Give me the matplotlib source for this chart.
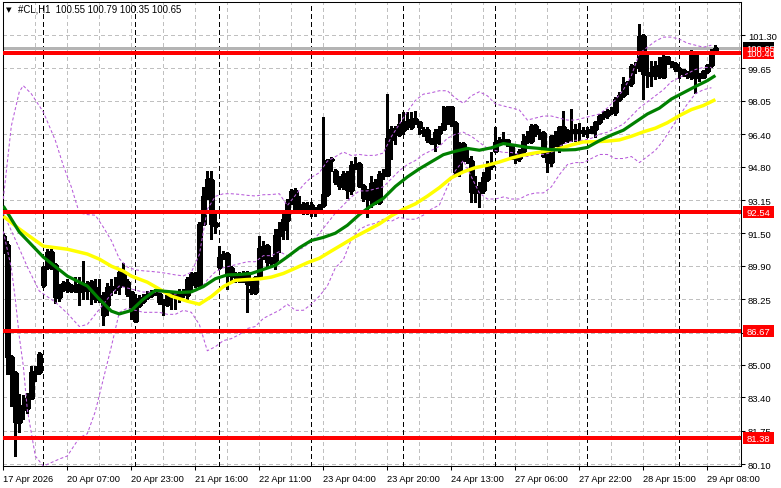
import numpy as np
import matplotlib
matplotlib.use("Agg")
import matplotlib.pyplot as plt
from matplotlib.patches import Rectangle
from matplotlib.transforms import blended_transform_factory

plt.rcParams['lines.scale_dashes'] = False
plt.rcParams['font.family'] = ['Liberation Sans', 'DejaVu Sans']

# ---------------- data (hourly candles, bar index 0..178) ----------------
opens = [
91.37, 90.93, 85.39, 84.60, 82.18, 82.82, 82.87, 83.36, 84.60, 84.65,
88.95, 89.84, 90.58, 89.94, 88.35, 88.75, 89.04, 88.70, 88.95, 88.65,
89.00, 88.70, 88.75, 88.80, 88.40, 88.45, 87.96, 88.85, 88.75, 88.90,
89.09, 89.09, 88.60, 87.17, 87.96, 88.15, 88.35, 88.45, 88.50, 88.50,
88.11, 88.01, 88.45, 88.60, 88.35, 88.50, 88.45, 89.24, 89.49, 88.95,
91.97, 93.35, 94.14, 92.02, 89.84, 90.33, 90.48, 89.79, 89.44, 89.34,
89.19, 89.54, 88.75, 88.60, 89.34, 90.78, 90.88, 90.09, 90.19, 91.42,
91.72, 92.16, 93.05, 93.59, 92.60, 92.95, 92.60, 92.90, 92.55, 92.65,
92.90, 93.44, 95.12, 94.58, 94.04, 93.84, 94.38, 93.64, 94.83, 94.93,
93.84, 93.30, 93.20, 93.99, 93.05, 94.38, 94.38, 96.16, 96.65, 96.41,
96.60, 96.80, 96.75, 97.00, 97.00, 96.46, 96.60, 96.11, 96.51, 96.46,
96.65, 96.95, 97.74, 96.95, 94.53, 95.92, 95.17, 95.07, 93.54, 93.54,
93.64, 94.18, 94.83, 95.57, 96.01, 96.11, 96.01, 95.86, 95.32, 95.22,
95.57, 96.06, 96.06, 96.81, 96.46, 96.46, 95.42, 95.02, 96.06, 95.67,
96.76, 96.11, 96.51, 96.61, 96.51, 96.56, 96.51, 96.61, 96.66, 97.00,
97.30, 97.35, 97.50, 97.50, 98.14, 98.34, 98.88, 98.93, 99.72, 99.72,
101.25, 99.42, 99.37, 99.32, 99.77, 99.22, 100.21, 99.97, 99.87, 99.62,
99.57, 99.40, 99.22, 100.36, 99.32, 99.22, 99.52, 99.82, 100.55,
]
highs = [
91.52, 91.13, 85.49, 84.70, 83.56, 83.51, 83.61, 84.94, 84.94, 85.64,
89.89, 90.73, 90.73, 90.03, 89.00, 89.14, 89.24, 89.00, 89.34, 89.34,
90.13, 89.14, 89.19, 89.24, 89.24, 88.60, 89.04, 89.24, 89.34, 89.74,
90.03, 89.24, 88.65, 88.50, 88.45, 88.50, 88.65, 88.70, 88.75, 88.65,
88.25, 88.60, 88.60, 88.65, 88.75, 88.75, 89.34, 89.57, 89.57, 92.07,
93.79, 94.58, 94.58, 92.51, 90.88, 90.63, 90.58, 89.89, 89.59, 89.59,
89.64, 89.64, 89.24, 89.39, 91.37, 91.12, 90.98, 90.33, 91.72, 92.05,
92.46, 93.20, 93.69, 93.72, 93.35, 93.05, 93.03, 93.03, 92.80, 92.95,
97.25, 95.20, 95.27, 94.68, 94.35, 94.58, 94.58, 95.07, 95.30, 95.01,
93.94, 93.69, 94.35, 94.18, 94.58, 94.68, 98.39, 96.83, 96.83, 97.40,
97.48, 97.48, 97.48, 97.55, 97.05, 96.75, 96.75, 96.21, 96.66, 96.83,
97.82, 97.82, 97.82, 97.05, 96.00, 96.00, 95.67, 95.34, 94.35, 94.02,
94.51, 95.07, 95.50, 96.76, 96.26, 96.51, 96.16, 95.91, 95.42, 95.67,
96.41, 96.58, 96.91, 96.91, 96.66, 96.58, 95.50, 96.36, 96.58, 96.83,
97.55, 96.66, 97.65, 96.91, 96.98, 96.74, 96.74, 96.83, 97.07, 97.40,
97.57, 97.65, 97.73, 98.22, 98.47, 99.21, 99.05, 99.87, 99.95, 101.84,
101.35, 100.36, 100.04, 100.04, 100.21, 100.36, 100.28, 100.04, 99.95, 99.70,
99.62, 99.54, 100.56, 100.41, 99.45, 99.54, 99.87, 100.61, 100.79,
]
lows = [
90.52, 84.55, 82.96, 80.50, 81.68, 82.32, 82.62, 83.31, 84.20, 84.55,
88.85, 89.74, 89.74, 88.06, 88.15, 88.65, 88.60, 88.60, 88.60, 87.96,
88.25, 88.25, 88.01, 88.11, 88.11, 86.97, 87.47, 88.45, 88.55, 88.50,
88.90, 88.40, 87.27, 87.12, 87.86, 88.06, 88.25, 88.35, 88.45, 88.01,
87.47, 87.91, 87.76, 87.76, 88.11, 88.35, 88.25, 88.65, 88.85, 88.85,
91.92, 93.20, 91.22, 91.52, 89.74, 90.23, 88.75, 89.09, 89.09, 89.09,
89.09, 87.61, 88.50, 88.50, 89.24, 90.23, 89.89, 89.94, 89.74, 90.58,
91.22, 91.22, 92.95, 92.55, 92.55, 92.45, 92.45, 92.38, 92.38, 92.60,
92.80, 93.37, 94.58, 93.94, 93.69, 93.69, 93.27, 93.44, 94.68, 93.77,
93.10, 92.31, 92.78, 92.95, 92.95, 94.18, 94.33, 95.17, 95.91, 96.33,
96.41, 96.65, 96.65, 96.90, 96.41, 96.31, 96.01, 95.91, 95.57, 95.91,
96.65, 96.90, 96.82, 94.33, 94.33, 95.07, 95.00, 93.05, 93.03, 92.80,
93.52, 94.08, 94.68, 95.52, 95.91, 95.91, 95.81, 95.17, 95.00, 95.07,
95.47, 95.96, 95.99, 96.31, 96.16, 95.30, 94.55, 94.85, 95.82, 95.54,
95.99, 96.03, 96.08, 96.08, 95.99, 96.33, 96.24, 96.49, 96.24, 96.90,
97.15, 97.20, 97.40, 97.35, 98.02, 98.24, 98.39, 98.80, 99.45, 99.52,
98.14, 98.71, 98.80, 99.12, 99.20, 99.17, 99.87, 99.74, 99.54, 99.20,
99.29, 99.20, 99.12, 98.42, 99.05, 99.17, 99.45, 99.70, 100.35,
]
closes = [
90.62, 85.39, 84.55, 82.18, 82.97, 82.97, 83.36, 84.65, 84.65, 85.54,
89.84, 90.58, 89.94, 88.35, 88.75, 89.04, 88.70, 88.90, 88.65, 89.00,
88.70, 89.00, 89.09, 88.25, 88.25, 87.47, 88.85, 88.75, 88.90, 89.59,
89.49, 88.50, 87.76, 88.25, 88.25, 88.35, 88.50, 88.60, 88.60, 88.11,
88.01, 88.45, 88.55, 88.35, 88.60, 88.55, 89.24, 89.49, 88.95, 91.97,
93.35, 94.19, 91.97, 91.87, 90.33, 90.48, 89.49, 89.39, 89.34, 89.14,
89.54, 88.99, 88.60, 89.34, 90.78, 90.88, 90.09, 90.19, 91.42, 91.72,
92.21, 93.05, 93.59, 92.60, 92.90, 92.60, 92.85, 92.55, 92.65, 92.90,
93.44, 95.12, 95.17, 94.04, 93.84, 94.43, 93.64, 94.88, 94.93, 93.84,
93.25, 93.20, 93.99, 93.05, 94.43, 94.48, 96.21, 96.65, 96.41, 96.90,
97.00, 97.05, 97.15, 97.15, 96.75, 96.60, 96.11, 95.96, 96.01, 96.65,
96.95, 97.74, 96.95, 94.53, 95.92, 95.17, 95.07, 93.54, 93.79, 93.79,
94.28, 94.83, 94.93, 96.01, 96.11, 96.01, 96.11, 95.22, 95.17, 95.57,
96.06, 96.31, 96.81, 96.46, 96.41, 95.34, 95.02, 96.31, 96.31, 96.76,
96.11, 96.56, 96.61, 96.51, 96.56, 96.46, 96.61, 96.51, 97.00, 97.30,
97.40, 97.55, 97.60, 98.14, 98.34, 98.88, 98.98, 99.77, 99.82, 101.25,
99.37, 99.32, 99.32, 99.77, 99.27, 100.21, 99.97, 99.85, 99.62, 99.55,
99.37, 99.29, 100.36, 99.22, 99.22, 99.52, 99.84, 100.51, 100.65,
]

# green moving average (read at these bar indices)
green_idx = [0, 4, 10, 16, 21, 24, 27] + list(range(29, 177, 3)) + [178]
green_vals = [
92.85, 91.57, 90.33, 89.39, 88.90, 88.25, 87.66,
87.52, 87.69, 88.25, 88.68, 88.63, 88.58, 88.61, 88.87, 89.26, 89.45,
89.47, 89.52, 89.72, 89.92, 90.34, 90.79, 91.15, 91.30, 91.51, 91.90,
92.43, 92.87, 93.23, 93.82, 94.29, 94.69, 95.04, 95.39, 95.56, 95.70,
95.61, 95.73, 95.94, 95.85, 95.75, 95.70, 95.64, 95.62, 95.64, 95.75,
96.08, 96.36, 96.60, 97.00, 97.40, 97.69, 98.14, 98.45, 98.76, 99.05,
99.30,
]
# yellow moving average
yellow_idx = [0, 4, 10, 16, 21, 24, 27, 30, 32, 36, 39, 42, 46] + list(range(49, 179, 3))
yellow_vals = [
92.35, 91.72, 90.87, 90.72, 90.48, 90.23, 89.88, 89.64, 89.39, 89.09, 88.75, 88.40, 88.15,
88.00, 88.38, 88.87, 89.18, 89.22, 89.25, 89.34, 89.52, 89.78, 90.05,
90.27, 90.63, 90.98, 91.34, 91.65, 91.97, 92.37, 92.69, 92.96, 93.34,
93.76, 94.25, 94.54, 94.75, 94.87, 95.03, 95.22, 95.37, 95.48, 95.58,
95.69, 95.87, 96.02, 96.03, 96.06, 96.12, 96.30, 96.52, 96.70, 96.97,
97.32, 97.62, 97.82, 98.11,
]
# Bollinger bands (dashed purple)
bb_sample_idx = list(range(19, 179, 2))
bb_up_idx = [0, 2, 4, 5, 7, 10, 13, 15, 17] + bb_sample_idx
bb_up_vals = [
93.2, 96.8, 98.5, 98.8, 98.4, 97.5, 96.1, 94.85, 93.8,
92.51, 92.43, 92.40, 91.81, 91.15, 90.25, 89.84, 89.70, 89.65, 89.62,
89.58, 89.52, 89.45, 89.40, 89.58, 90.45, 92.69, 93.33, 93.46, 93.46,
93.43, 93.38, 93.35, 93.41, 93.42, 93.46, 92.88, 93.38, 93.90, 94.27,
94.50, 95.07, 95.29, 95.52, 95.35, 95.40, 95.35, 95.36, 95.47, 96.28,
96.90, 97.52, 98.07, 98.38, 98.45, 98.55, 98.55, 98.19, 97.93,
98.3, 98.5, 98.3, 97.9, 97.8, 97.7, 97.6, 97.1, 97.2, 97.3,
97.3, 97.2, 97.1, 97.1, 97.2, 97.3, 97.4, 97.7, 98.1, 98.6,
99.3, 100.4, 100.7, 101.0, 101.2, 101.2, 101.1, 100.9, 100.8, 100.7, 100.8,
]
bb_mid_idx = [0, 3, 6, 9, 13, 16] + bb_sample_idx
bb_mid_vals = [
92.5, 91.2, 89.85, 88.65, 88.1, 87.55,
86.9, 87.0, 87.5, 88.0, 88.5, 88.9, 88.8, 88.7, 88.6, 88.6,
88.6, 88.5, 88.5, 88.6, 88.6, 88.7, 89.2, 89.6, 89.8, 89.9,
90.0, 90.1, 90.1, 90.4, 90.4, 90.6, 90.4, 90.6, 90.8, 91.1,
91.5, 92.0, 92.5, 92.9, 93.3, 93.6, 93.6, 93.7, 93.8, 94.2,
94.6, 94.9, 95.1, 95.4, 95.6, 95.8, 96.2, 96.4, 96.5, 96.3,
96.0, 95.7, 95.6, 95.5, 95.5, 95.4, 95.3, 95.4, 95.4, 95.5,
95.8, 96.0, 96.1, 96.1, 96.2, 96.4, 96.5, 96.7, 96.9, 97.3,
97.7, 98.0, 98.3, 98.6, 99.0, 99.2, 99.4, 99.6, 99.7, 99.7,
]
bb_lo_idx = [0, 2, 3, 4, 5, 6, 8, 10, 14, 16] + bb_sample_idx
bb_lo_vals = [
91.6, 89.8, 88.25, 86.4, 84.95, 82.8, 80.5, 80.0, 80.35, 80.5,
81.4, 81.6, 82.7, 84.3, 85.9, 87.6, 87.8, 87.7, 87.6, 87.6,
87.6, 87.5, 87.5, 87.7, 87.6, 87.0, 85.7, 85.9, 86.2, 86.3,
86.5, 86.8, 86.9, 87.3, 87.5, 87.7, 88.0, 87.7, 87.7, 88.0,
88.4, 88.9, 89.8, 90.2, 91.2, 91.7, 91.9, 92.0, 92.2, 92.1,
92.3, 92.2, 92.2, 92.4, 92.7, 92.9, 93.8, 94.6, 95.1, 94.3,
93.5, 93.2, 93.2, 93.3, 93.2, 93.2, 93.4, 93.5, 93.5, 93.8,
94.4, 94.9, 95.0, 95.0, 95.2, 95.4, 95.4, 95.2, 95.2, 95.3,
95.0, 95.3, 95.6, 96.1, 96.7, 97.3, 97.9, 98.4, 98.6, 98.7,
]

levels = [100.40, 92.54, 86.67, 81.38]
last_price = 100.65
ytick_vals = [101.30, 99.65, 98.05, 96.40, 94.80, 93.15, 91.50, 89.90, 88.25, 86.60, 85.00, 83.40, 81.75, 80.10]
ytick_labels = ["101.30", "99.65", "98.05", "96.40", "94.80", "93.15", "91.50", "89.90", "88.25", "",
                "85.00", "83.40", "81.75", "80.10"]
xtick_idx = [0, 16, 32, 48, 64, 80, 96, 112, 128, 144, 160, 176]
xtick_labels = ["17 Apr 2026", "20 Apr 07:00", "20 Apr 23:00", "21 Apr 16:00", "22 Apr 11:00",
                "23 Apr 04:00", "23 Apr 20:00", "24 Apr 13:00", "27 Apr 06:00", "27 Apr 22:00",
                "28 Apr 15:00", "29 Apr 08:00"]
sep_idx = [10, 33, 54, 77, 100, 123, 146, 169]
title = "#CL,H1  100.55 100.79 100.35 100.65"

# ---------------- drawing ----------------
O = np.array(opens); Hh = np.array(highs); Lw = np.array(lows); C = np.array(closes)
n = len(C)
idx = np.arange(n)

W, H = 781, 489
fig = plt.figure(figsize=(W / 100, H / 100), dpi=100)
fig.patch.set_facecolor('white')
Lp, Rp, Tp, Bp = 2.5, 741.0, 2.7, 466.5
ax = fig.add_axes([Lp / W, (H - Bp) / H, (Rp - Lp) / W, (Bp - Tp) / H])
ax.set_facecolor('white')
ax.set_xlim(-0.2, 184.4)
ax.set_ylim(80.03, 102.95)

for gx in range(8, 185, 8):
    ax.axvline(gx, color='#C0C0C0', lw=0.75, dashes=(2.5, 2.5), zorder=0.5, antialiased=False)
for gy in ytick_vals:
    ax.axhline(gy, color='#C0C0C0', lw=0.75, dashes=(2.5, 2.5), zorder=0.5, antialiased=False)
for sx in sep_idx:
    ax.axvline(sx, color='black', lw=0.75, dashes=(2.9, 2.2), zorder=1, antialiased=False)
ax.axhline(last_price, color='#B4B4B4', lw=0.75, zorder=1, antialiased=False)

ax.vlines(idx, Lw, Hh, color='black', lw=0.75, zorder=2, antialiased=False)
bull = C >= O
bot = np.minimum(O, C)
hgt = np.maximum(np.abs(C - O), 0.03)
ax.bar(idx[bull], hgt[bull], bottom=bot[bull], width=0.8, color='white', edgecolor='black',
       linewidth=0.75, zorder=2.5, antialiased=False)
ax.bar(idx[~bull], hgt[~bull], bottom=bot[~bull], width=0.8, color='black', edgecolor='black',
       linewidth=0.75, zorder=2.5, antialiased=False)

bbc = '#B85CDA'
for xs, vs in [(bb_up_idx, bb_up_vals), (bb_mid_idx, bb_mid_vals), (bb_lo_idx, bb_lo_vals)]:
    ax.plot(xs, vs, color=bbc, lw=0.75, dashes=(2.2, 1.6), zorder=3)
ax.plot(yellow_idx, yellow_vals, color='#FFFF00', lw=2.5, zorder=3.8, solid_capstyle='butt')
ax.plot(green_idx, green_vals, color='#008000', lw=2.3, zorder=4, solid_capstyle='butt')

for lv in levels:
    ax.axhline(lv, color='#FF0000', lw=1.5, zorder=5, antialiased=False)

for sp in ax.spines.values():
    sp.set_color('black'); sp.set_linewidth(0.75)
ax.yaxis.tick_right()
ax.set_yticks(ytick_vals)
ax.set_yticklabels(ytick_labels)
ax.tick_params(axis='y', direction='out', length=3, width=0.75, pad=2, labelsize=6.8, colors='black')
ax.set_xticks(xtick_idx)
ax.set_xticklabels(xtick_labels, ha='left')
ax.tick_params(axis='x', direction='out', length=3, width=0.75, pad=3.2, labelsize=6.7, colors='black')

blend = blended_transform_factory(fig.transFigure, ax.transData)
bh = 12 / 20.236
def price_box(v, txt, fc):
    r = Rectangle((742.7 / W, v - bh / 2), 31.5 / W, bh, transform=blend, facecolor=fc,
                  edgecolor='none', clip_on=False, zorder=10)
    fig.add_artist(r)
    fig.text(746.3 / W, v, txt, transform=blend, color='white', fontsize=6.8, va='center',
             ha='left', zorder=11)
price_box(last_price, f"{last_price:.2f}", 'black')
for lv in levels:
    price_box(lv, f"{lv:.2f}", '#FF0000')

fig.text(6 / W, 1 - 10 / H, '\u25BC', fontsize=5.2, va='center', ha='left', color='black',
         family=['DejaVu Sans'])
fig.text(18 / W, 1 - 10 / H, title, fontsize=6.9, va='center', ha='left', color='black')

fig.savefig('out.png', dpi=100, facecolor='white')
